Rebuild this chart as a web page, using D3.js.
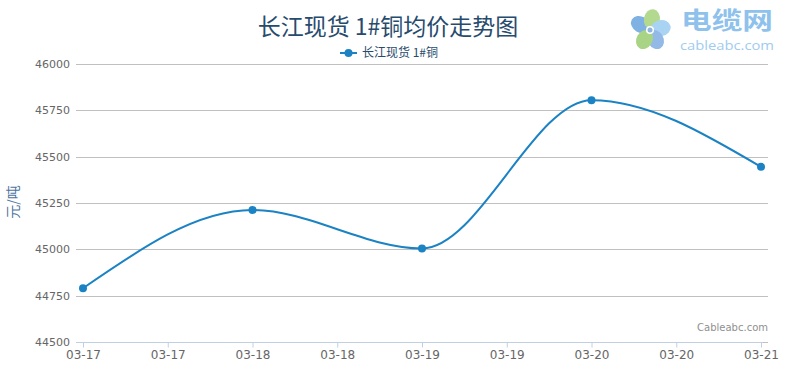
<!DOCTYPE html>
<html>
<head>
<meta charset="utf-8">
<script src="https://cdn.jsdelivr.net/npm/d3@7"></script>
<style>
  body { margin: 0; background: #fff; }
  svg { display: block; font-family: "DejaVu Sans", "Noto Sans CJK SC", sans-serif; }
</style>
</head>
<body>
<div id="chart-area"></div>
<script>
// Chart data
var dates = ["03-17", "03-18", "03-19", "03-20", "03-21"];
var prices = [44790, 45212, 45005, 45805, 45445];
var yTicks = [44500, 44750, 45000, 45250, 45500, 45750, 46000];
var seriesName = "长江现货 1#铜";
var chartTitle = "长江现货 1#铜均价走势图";
var yTitle = "元/吨";

var width = 793;
var height = 377;

var parseDate = d3.timeParse("%m-%d");
var data = dates.map((d, i) => ({ date: parseDate(d), value: prices[i] }));

var svg = d3.select("#chart-area")
    .append("svg")
    .attr("width", width)
    .attr("height", height);

// Scales
var x = d3.scaleTime()
    .domain(d3.extent(data, d => d.date))
    .range([83, 761]);

var y = d3.scaleLinear()
    .domain([44500, 46000])
    .range([342, 64]);

// Gridlines
svg.append("g")
    .selectAll("line")
    .data(yTicks)
    .enter()
    .append("line")
    .attr("x1", 76)
    .attr("x2", 768)
    .attr("y1", d => Math.round(y(d)) + 0.5)
    .attr("y2", d => Math.round(y(d)) + 0.5)
    .attr("stroke", "#c0c0c0")
    .attr("stroke-width", 1);

// Y labels
svg.append("g")
    .selectAll("text")
    .data(yTicks)
    .enter()
    .append("text")
    .attr("x", 70)
    .attr("y", d => y(d) + 4)
    .attr("text-anchor", "end")
    .attr("font-size", "11px")
    .attr("fill", "#666")
    .text(d => d);

// Y axis title
svg.append("text")
    .attr("transform", "translate(18, 202) rotate(-90)")
    .attr("text-anchor", "middle")
    .attr("font-size", "14px")
    .attr("font-family", "Noto Sans CJK SC")
    .attr("fill", "#4d759e")
    .text(yTitle);

// X axis
var xAxis = d3.axisBottom(x)
    .ticks(d3.timeHour.every(12))
    .tickFormat(d3.timeFormat("%m-%d"))
    .tickSize(5)
    .tickPadding(3);

var gx = svg.append("g")
    .attr("transform", "translate(0, 342.5)")
    .call(xAxis);

gx.select(".domain").remove();
gx.append("line")
    .attr("x1", 76)
    .attr("x2", 763)
    .attr("stroke", "#c0d0e0");
gx.selectAll(".tick line").attr("stroke", "#c0d0e0");
gx.selectAll(".tick text")
    .attr("fill", "#666")
    .attr("font-size", "12px")
    .attr("font-family", "DejaVu Sans");

// Line
var line = d3.line()
    .x(d => x(d.date))
    .y(d => y(d.value))
    .curve(d3.curveMonotoneX);

svg.append("path")
    .datum(data)
    .attr("fill", "none")
    .attr("stroke", "#1b82c4")
    .attr("stroke-width", 2)
    .attr("d", line);

svg.append("g")
    .selectAll("circle")
    .data(data)
    .enter()
    .append("circle")
    .attr("cx", d => x(d.date))
    .attr("cy", d => y(d.value))
    .attr("r", 4)
    .attr("fill", "#1b82c4");

// Title
svg.append("text")
    .attr("x", 388)
    .attr("y", 35)
    .attr("text-anchor", "middle")
    .attr("font-size", "23px")
    .attr("font-family", "Noto Sans CJK SC")
    .attr("fill", "#274b6d")
    .text(chartTitle);

// Legend
var legend = svg.append("g");
legend.append("line")
    .attr("x1", 340).attr("x2", 357)
    .attr("y1", 53).attr("y2", 53)
    .attr("stroke", "#1b82c4")
    .attr("stroke-width", 2);
legend.append("circle")
    .attr("cx", 348.5).attr("cy", 53)
    .attr("r", 4)
    .attr("fill", "#1b82c4");
legend.append("text")
    .attr("x", 362)
    .attr("y", 57)
    .attr("font-size", "12px")
    .attr("font-family", "Noto Sans CJK SC")
    .attr("fill", "#274b6d")
    .text(seriesName);

// Credits
svg.append("text")
    .attr("x", 768)
    .attr("y", 331)
    .attr("text-anchor", "end")
    .attr("font-size", "10px")
    .attr("fill", "#909090")
    .text("Cableabc.com");

// Logo
var logo = svg.append("g").attr("transform", "translate(650, 30)");
var petals = [
    { a: -150, c: "#7fb2e3" },
    { a: -80, c: "#b3d98f" },
    { a: -10, c: "#a9d3f2" },
    { a: 60, c: "#93b9e6" },
    { a: 120, c: "#a9d486" }
];
logo.selectAll("ellipse")
    .data(petals)
    .enter()
    .append("ellipse")
    .attr("cx", 11)
    .attr("cy", 0)
    .attr("rx", 10)
    .attr("ry", 8)
    .attr("fill", d => d.c)
    .attr("transform", d => `rotate(${d.a})`);
logo.append("circle").attr("r", 4).attr("fill", "#fff");
logo.append("circle").attr("r", 2.5).attr("fill", "#8fb4e0");

svg.append("text")
    .attr("x", 681)
    .attr("y", 29)
    .attr("font-size", "24px")
    .attr("font-weight", "bold")
    .attr("font-family", "Noto Sans CJK SC")
    .attr("fill", "#8ec2ec")
    .attr("textLength", 92)
    .attr("lengthAdjust", "spacingAndGlyphs")
    .text("电缆网");
svg.append("text")
    .attr("x", 680)
    .attr("y", 50)
    .attr("font-size", "13px")
    .attr("font-family", "Open Sans")
    .attr("fill", "#9fccef")
    .attr("textLength", 94)
    .attr("lengthAdjust", "spacingAndGlyphs")
    .text("cableabc.com");
</script>
</body>
</html>
